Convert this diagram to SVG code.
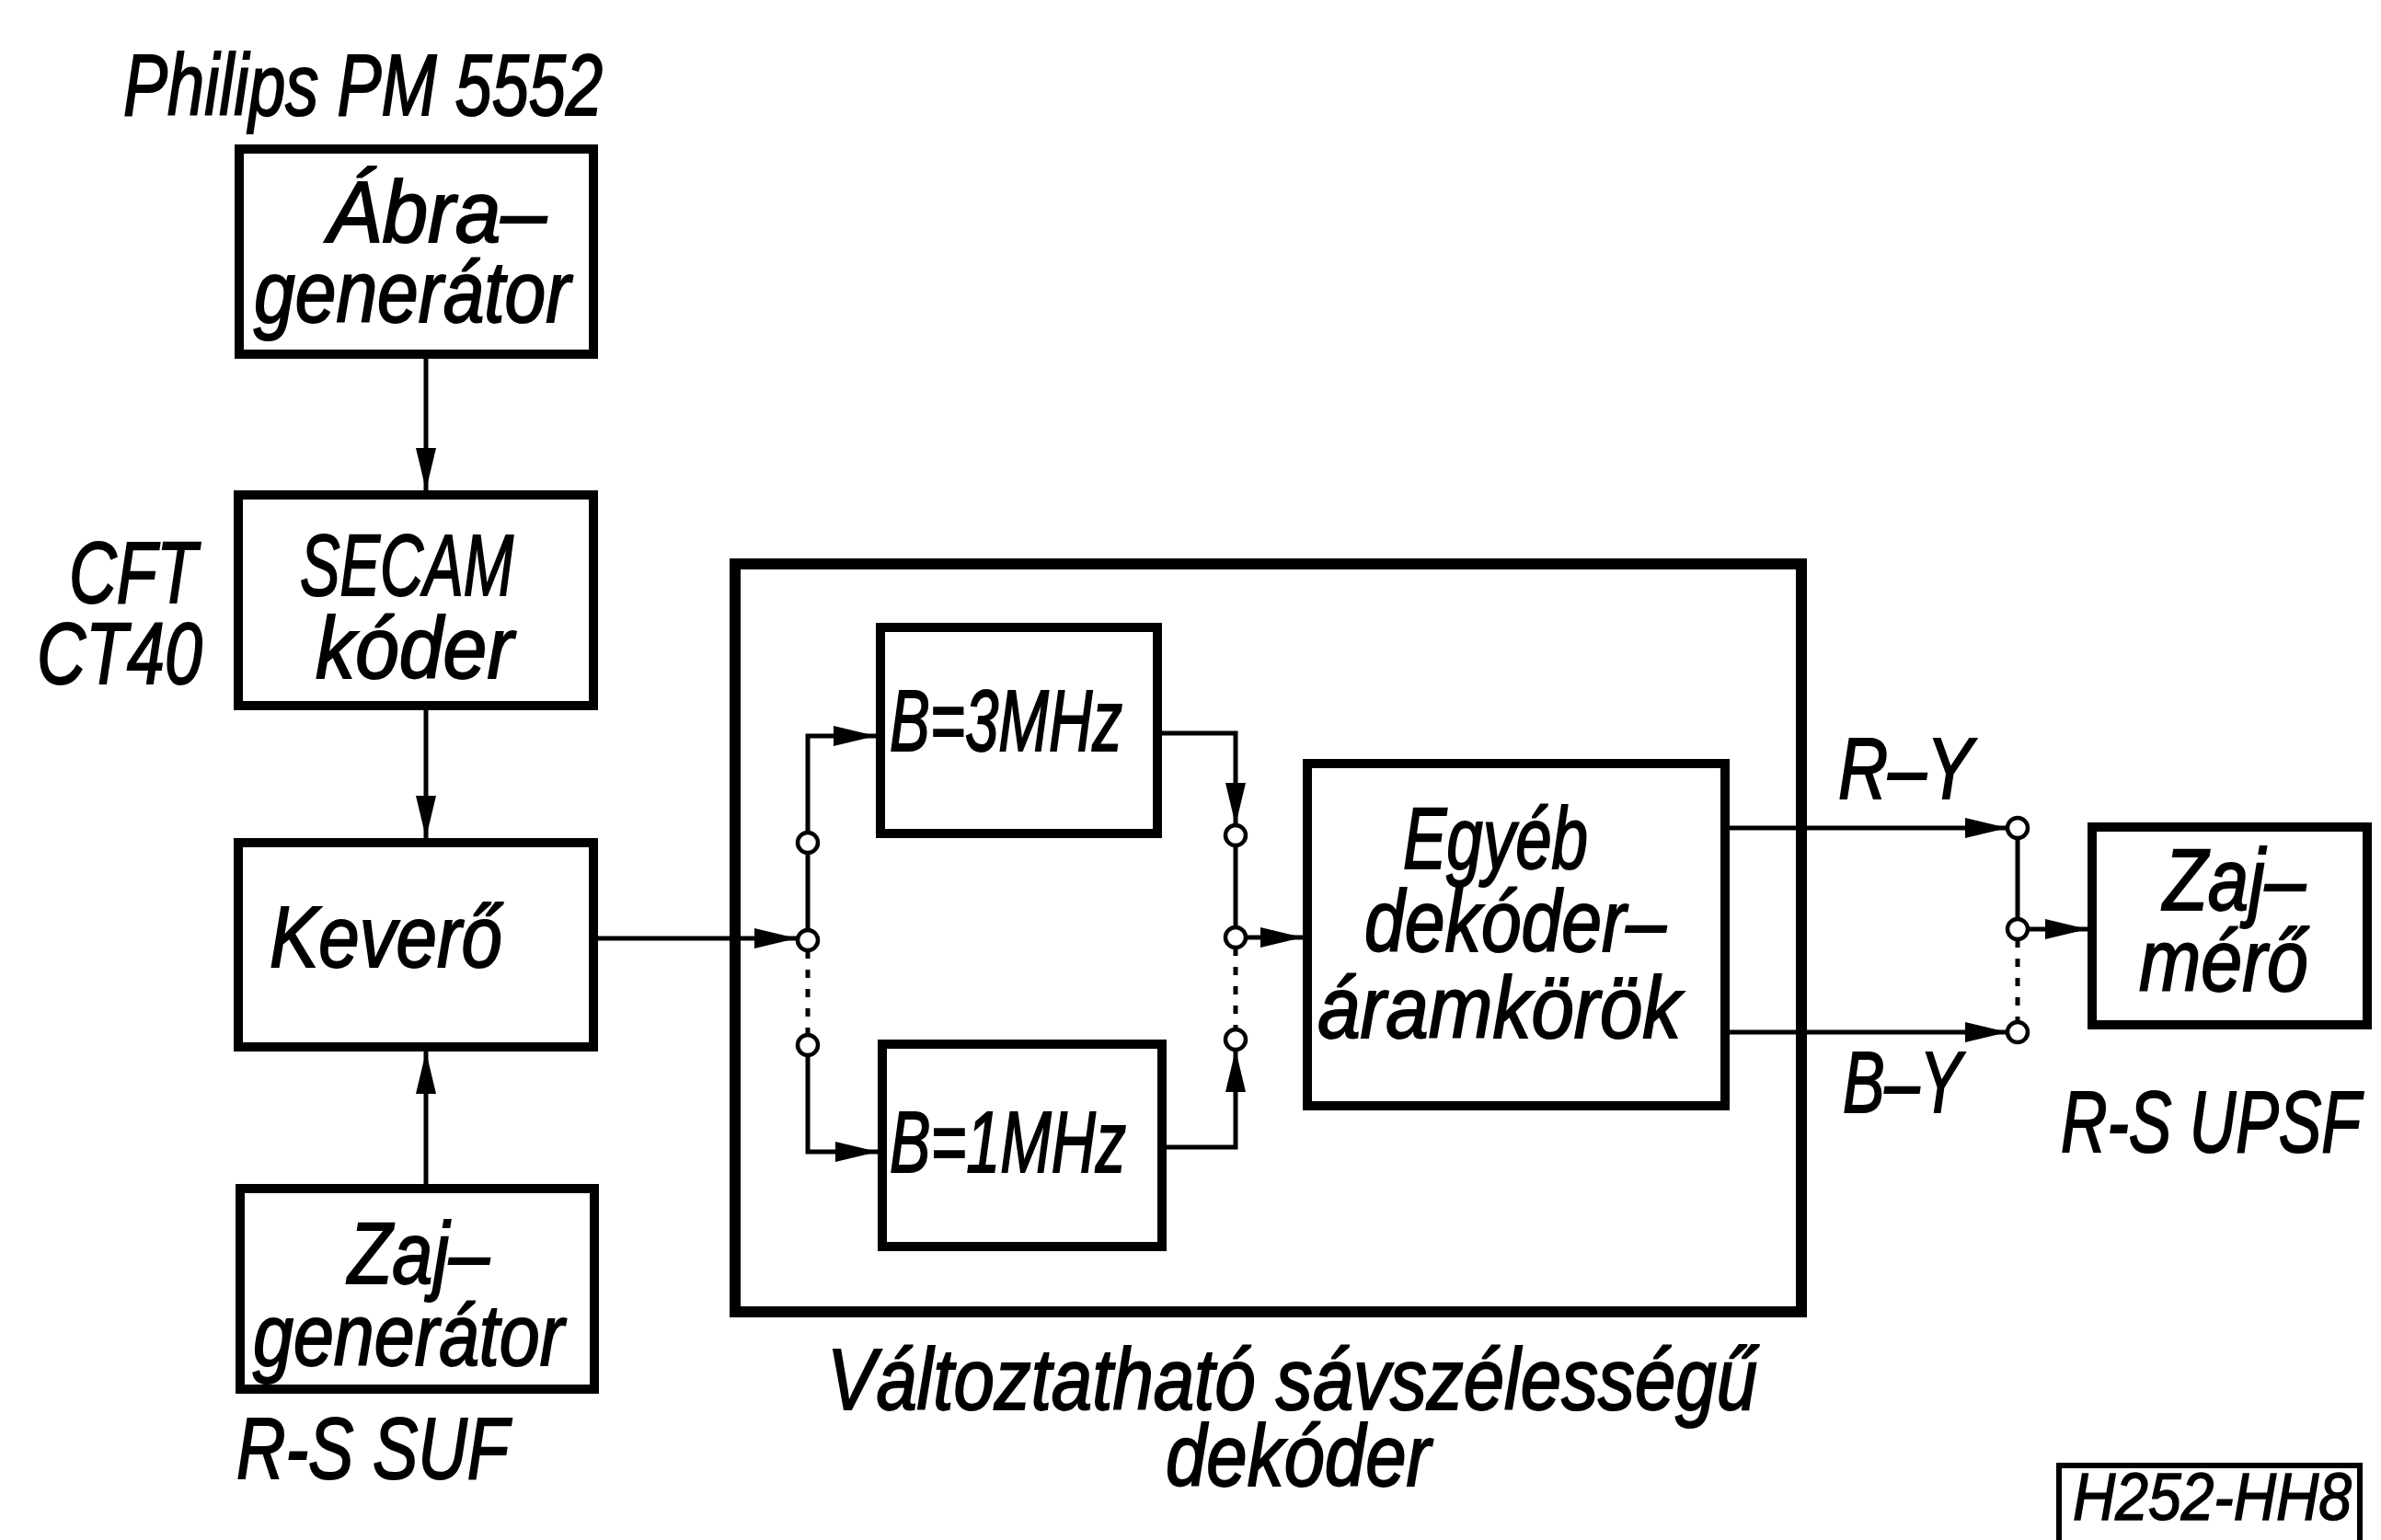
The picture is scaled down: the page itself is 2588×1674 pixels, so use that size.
<svg xmlns="http://www.w3.org/2000/svg" width="2588" height="1674" viewBox="0 0 2588 1674">
<style>
  .box { fill: none; stroke: #000; stroke-width: 10; }
  .big { fill: none; stroke: #000; stroke-width: 12; }
  .ln { fill: none; stroke: #000; stroke-width: 5; }
  .dot { fill: none; stroke: #000; stroke-width: 5; stroke-dasharray: 9 12; }
  .sw { fill: #fff; stroke: #000; stroke-width: 4.5; }
  text { font-family: "Liberation Sans", Arial, sans-serif; font-style: italic; font-size: 95px; fill: #000; stroke: #000; stroke-width: 2; }
  .sm { font-size: 72px; stroke-width: 1.5; }
</style>
<defs>
  <marker id="ah" markerUnits="userSpaceOnUse" markerWidth="48" markerHeight="24" refX="46" refY="11" orient="auto">
    <path d="M0,0 L46,11 L0,22 Z" fill="#000"/>
  </marker>
</defs>
<rect width="2588" height="1674" fill="#fff"/>

<text x="134" y="125" textLength="521" lengthAdjust="spacingAndGlyphs">Philips PM 5552</text>

<g id="abragenerator">
  <rect class="box" x="260" y="162" width="385" height="223"/>
  <text x="356" y="263" textLength="238" lengthAdjust="spacingAndGlyphs">Ábra–</text>
  <text x="276" y="350" textLength="344" lengthAdjust="spacingAndGlyphs">generátor</text>
</g>

<g id="secam">
  <rect class="box" x="259" y="538" width="386" height="229"/>
  <text x="326" y="647" textLength="232" lengthAdjust="spacingAndGlyphs">SECAM</text>
  <text x="343" y="737" textLength="215" lengthAdjust="spacingAndGlyphs">kóder</text>
  <text x="75" y="655" textLength="139" lengthAdjust="spacingAndGlyphs">CFT</text>
  <text x="40" y="743" textLength="180" lengthAdjust="spacingAndGlyphs">CT40</text>
</g>

<g id="kevero">
  <rect class="box" x="259" y="916" width="386" height="222"/>
  <text x="293" y="1051" textLength="253" lengthAdjust="spacingAndGlyphs">Keverő</text>
</g>

<g id="zajgenerator">
  <rect class="box" x="261" y="1292" width="385" height="218"/>
  <text x="378" y="1395" textLength="154" lengthAdjust="spacingAndGlyphs">Zaj–</text>
  <text x="275" y="1484" textLength="338" lengthAdjust="spacingAndGlyphs">generátor</text>
  <text x="257" y="1607" textLength="296" lengthAdjust="spacingAndGlyphs">R-S SUF</text>
</g>

<g id="dekoder">
  <rect class="big" x="799" y="613" width="1159" height="813"/>
  <text x="899" y="1532" textLength="1011" lengthAdjust="spacingAndGlyphs">Változtatható sávszélességű</text>
  <text x="1267" y="1615" textLength="288" lengthAdjust="spacingAndGlyphs">dekóder</text>
</g>

<g id="b3mhz">
  <rect class="box" x="957" y="682" width="301" height="224"/>
  <text x="967" y="816" textLength="253" lengthAdjust="spacingAndGlyphs">B=3MHz</text>
</g>

<g id="b1mhz">
  <rect class="box" x="959" y="1135" width="304" height="220"/>
  <text x="967" y="1274" textLength="257" lengthAdjust="spacingAndGlyphs">B=1MHz</text>
</g>

<g id="egyeb">
  <rect class="box" x="1421" y="830" width="454" height="372"/>
  <text x="1525" y="944" textLength="201" lengthAdjust="spacingAndGlyphs">Egyéb</text>
  <text x="1483" y="1034" textLength="328" lengthAdjust="spacingAndGlyphs">dekóder–</text>
  <text x="1432" y="1128" textLength="395" lengthAdjust="spacingAndGlyphs">áramkörök</text>
</g>

<g id="zajmero">
  <rect class="box" x="2274" y="899" width="299" height="215"/>
  <text x="2351" y="989" textLength="155" lengthAdjust="spacingAndGlyphs">Zaj–</text>
  <text x="2325" y="1077" textLength="184" lengthAdjust="spacingAndGlyphs">mérő</text>
  <text x="2240" y="1252" textLength="326" lengthAdjust="spacingAndGlyphs">R-S UPSF</text>
</g>

<g id="label-ry">
  <text x="1998" y="868" textLength="146" lengthAdjust="spacingAndGlyphs">R–Y</text>
</g>
<g id="label-by">
  <text x="2003" y="1209" textLength="129" lengthAdjust="spacingAndGlyphs">B–Y</text>
</g>

<g id="h252">
  <rect x="2238" y="1593" width="327" height="110" fill="none" stroke="#000" stroke-width="6"/>
  <text class="sm" x="2253" y="1652" textLength="303" lengthAdjust="spacingAndGlyphs">H252-HH8</text>
</g>

<g id="connectors">
  <path class="ln" d="M463,390 V533" marker-end="url(#ah)"/>
  <path class="ln" d="M463,772 V911" marker-end="url(#ah)"/>
  <path class="ln" d="M463,1287 V1143" marker-end="url(#ah)"/>
  <path class="ln" d="M649,1020 H866" marker-end="url(#ah)"/>

  <path class="ln" d="M878,905 V800 H952" marker-end="url(#ah)"/>
  <path class="ln" d="M878,927 V1011"/>
  <path class="dot" d="M878,1033 V1125"/>
  <path class="ln" d="M878,1147 V1252 H954" marker-end="url(#ah)"/>

  <path class="ln" d="M1263,797 H1343 V897" marker-end="url(#ah)"/>
  <path class="ln" d="M1343,919 V1008"/>
  <path class="dot" d="M1343,1030 V1119"/>
  <path class="ln" d="M1268,1247 H1343 V1141" marker-end="url(#ah)"/>
  <path class="ln" d="M1354,1019 H1416" marker-end="url(#ah)"/>

  <path class="ln" d="M1880,900 H2182" marker-end="url(#ah)"/>
  <path class="ln" d="M1880,1122 H2182" marker-end="url(#ah)"/>
  <path class="ln" d="M2193,911 V999"/>
  <path class="dot" d="M2193,1021 V1111"/>
  <path class="ln" d="M2204,1010 H2269" marker-end="url(#ah)"/>

  <circle class="sw" cx="878" cy="916" r="11"/>
  <circle class="sw" cx="878" cy="1022" r="11"/>
  <circle class="sw" cx="878" cy="1136" r="11"/>
  <circle class="sw" cx="1343" cy="908" r="11"/>
  <circle class="sw" cx="1343" cy="1019" r="11"/>
  <circle class="sw" cx="1343" cy="1130" r="11"/>
  <circle class="sw" cx="2193" cy="900" r="11"/>
  <circle class="sw" cx="2193" cy="1010" r="11"/>
  <circle class="sw" cx="2193" cy="1122" r="11"/>
</g>
</svg>
